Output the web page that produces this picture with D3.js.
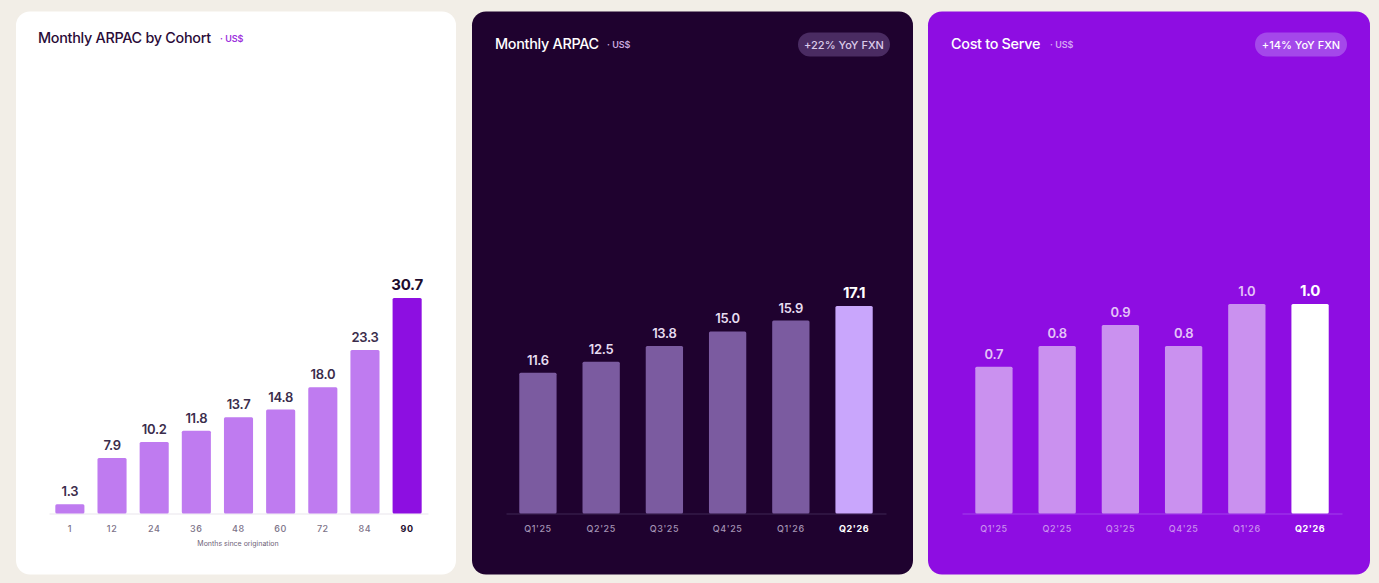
<!DOCTYPE html>
<html>
<head>
<meta charset="utf-8">
<script src="https://cdn.jsdelivr.net/npm/d3@7"></script>
<style>
  body { margin: 0; background: #f2eee7; }
  svg { display: block; font-family: Inter, "Noto Sans", sans-serif; }
</style>
</head>
<body>
<svg></svg>
<script>
// data
const cohortMonths = ["1", "12", "24", "36", "48", "60", "72", "84", "90"];
const cohortArpac = [1.3, 7.9, 10.2, 11.8, 13.7, 14.8, 18.0, 23.3, 30.7];

const quarters = ["Q1'25", "Q2'25", "Q3'25", "Q4'25", "Q1'26", "Q2'26"];
const monthlyArpac = [11.6, 12.5, 13.8, 15.0, 15.9, 17.1];
const costToServe = [0.7, 0.8, 0.9, 0.8, 1.0, 1.0];

const svg = d3.select("svg").attr("width", 1379).attr("height", 583);

const baseY = 513.5;

// panels config
const panels = [
  {
    x: 16, w: 440, bg: "#ffffff",
    title: "Monthly ARPAC by Cohort", titleColor: "#2a0b38", unitX: 220, unitColor: "#9b2fdc",
    cats: cohortMonths, vals: cohortArpac,
    range: [49, 428], padIn: 0.31, padOut: 0.15,
    yMax: 30.7, yTop: 298,
    bar: "#bf7bf0", lastBar: "#8d0fe1",
    label: "#3b2d4c", lastLabel: "#1e0c2e",
    tick: "#7c7288", lastTick: "#1e0c2e",
    line: "#e9e5ec"
  },
  {
    x: 472, w: 441, bg: "#1f022f",
    title: "Monthly ARPAC", titleColor: "#ffffff", unitX: 607, unitColor: "#c9a9df",
    pill: "+22% YoY FXN", pillX: 798, pillFill: "#4a2b62", pillText: "#dccbea",
    cats: quarters, vals: monthlyArpac,
    range: [506, 886], padIn: 0.41, padOut: 0.21,
    yMax: 17.1, yTop: 306,
    bar: "#7b5ba0", lastBar: "#c9a6fc",
    label: "#e6dcf0", lastLabel: "#ffffff",
    tick: "#a393b3", lastTick: "#ffffff",
    line: "#3f2654"
  },
  {
    x: 928, w: 442, bg: "#8e0de2",
    title: "Cost to Serve", titleColor: "#ffffff", unitX: 1050, unitColor: "#d6a5f4",
    pill: "+14% YoY FXN", pillX: 1255, pillFill: "#a448ea", pillText: "#ffffff",
    cats: quarters, vals: costToServe,
    range: [962, 1342], padIn: 0.41, padOut: 0.21,
    yMax: 1.0, yTop: 304,
    bar: "#ca91ef", lastBar: "#ffffff",
    label: "#e4c4f7", lastLabel: "#ffffff",
    tick: "#c98fee", lastTick: "#ffffff",
    line: "#a142ea"
  }
];

panels.forEach((p, pi) => {
  const g = svg.append("g");

  g.append("rect")
    .attr("x", p.x).attr("y", 11.5)
    .attr("width", p.w).attr("height", 563)
    .attr("rx", 14)
    .attr("fill", p.bg);

  // title
  const titleY = pi === 0 ? 43 : 49;
  g.append("text")
    .attr("x", p.x + (pi === 0 ? 22 : 23))
    .attr("y", titleY)
    .attr("font-size", 14.4)
    .attr("font-weight", 500)
    .attr("letter-spacing", -0.3)
    .attr("fill", p.titleColor)
    .text(p.title);
  g.append("text")
    .attr("x", p.unitX)
    .attr("y", titleY - 1)
    .attr("font-size", 9)
    .attr("font-weight", 600)
    .attr("fill", p.unitColor)
    .text("· US$");

  if (p.pill) {
    g.append("rect")
      .attr("x", p.pillX).attr("y", 32.5)
      .attr("width", 92).attr("height", 24)
      .attr("rx", 12)
      .attr("fill", p.pillFill);
    g.append("text")
      .attr("x", p.pillX + 46).attr("y", 49)
      .attr("text-anchor", "middle")
      .attr("font-size", 11)
      .attr("font-weight", 500)
      .attr("fill", p.pillText)
      .text(p.pill);
  }

  const x = d3.scaleBand()
    .domain(p.cats)
    .range(p.range)
    .paddingInner(p.padIn)
    .paddingOuter(p.padOut);

  const y = d3.scaleLinear()
    .domain([0, p.yMax])
    .range([baseY, p.yTop]);

  const last = p.cats.length - 1;

  // axis
  const axis = g.append("g")
    .attr("transform", `translate(0,${baseY})`)
    .call(d3.axisBottom(x).tickSize(0).tickPadding(12));
  axis.select(".domain").attr("stroke", p.line).attr("stroke-width", 1);
  axis.selectAll(".tick text")
    .attr("font-family", "Inter, sans-serif")
    .attr("font-size", 9)
    .attr("letter-spacing", 0.6)
    .attr("font-weight", (d, i) => i === last ? 700 : 500)
    .attr("fill", (d, i) => i === last ? p.lastTick : p.tick);

  // bars
  g.selectAll(".bar")
    .data(p.vals)
    .join("rect")
    .attr("x", (d, i) => x(p.cats[i]))
    .attr("y", d => y(d))
    .attr("width", x.bandwidth())
    .attr("height", d => baseY - y(d))
    .attr("rx", 1.5)
    .attr("fill", (d, i) => i === last ? p.lastBar : p.bar);

  // value labels
  g.selectAll(".val")
    .data(p.vals)
    .join("text")
    .attr("x", (d, i) => x(p.cats[i]) + x.bandwidth() / 2)
    .attr("y", d => y(d) - 8)
    .attr("text-anchor", "middle")
    .attr("font-size", (d, i) => i === last ? 15 : 13)
    .attr("font-weight", (d, i) => i === last ? 700 : 600)
    .attr("letter-spacing", -0.3)
    .attr("fill", (d, i) => i === last ? p.lastLabel : p.label)
    .text(d => d.toFixed(1));

  if (pi === 0) {
    g.append("text")
      .attr("x", 238).attr("y", 546)
      .attr("text-anchor", "middle")
      .attr("font-size", 7)
      .attr("fill", "#6e6478")
      .text("Months since origination");
  }
});
</script>
</body>
</html>
